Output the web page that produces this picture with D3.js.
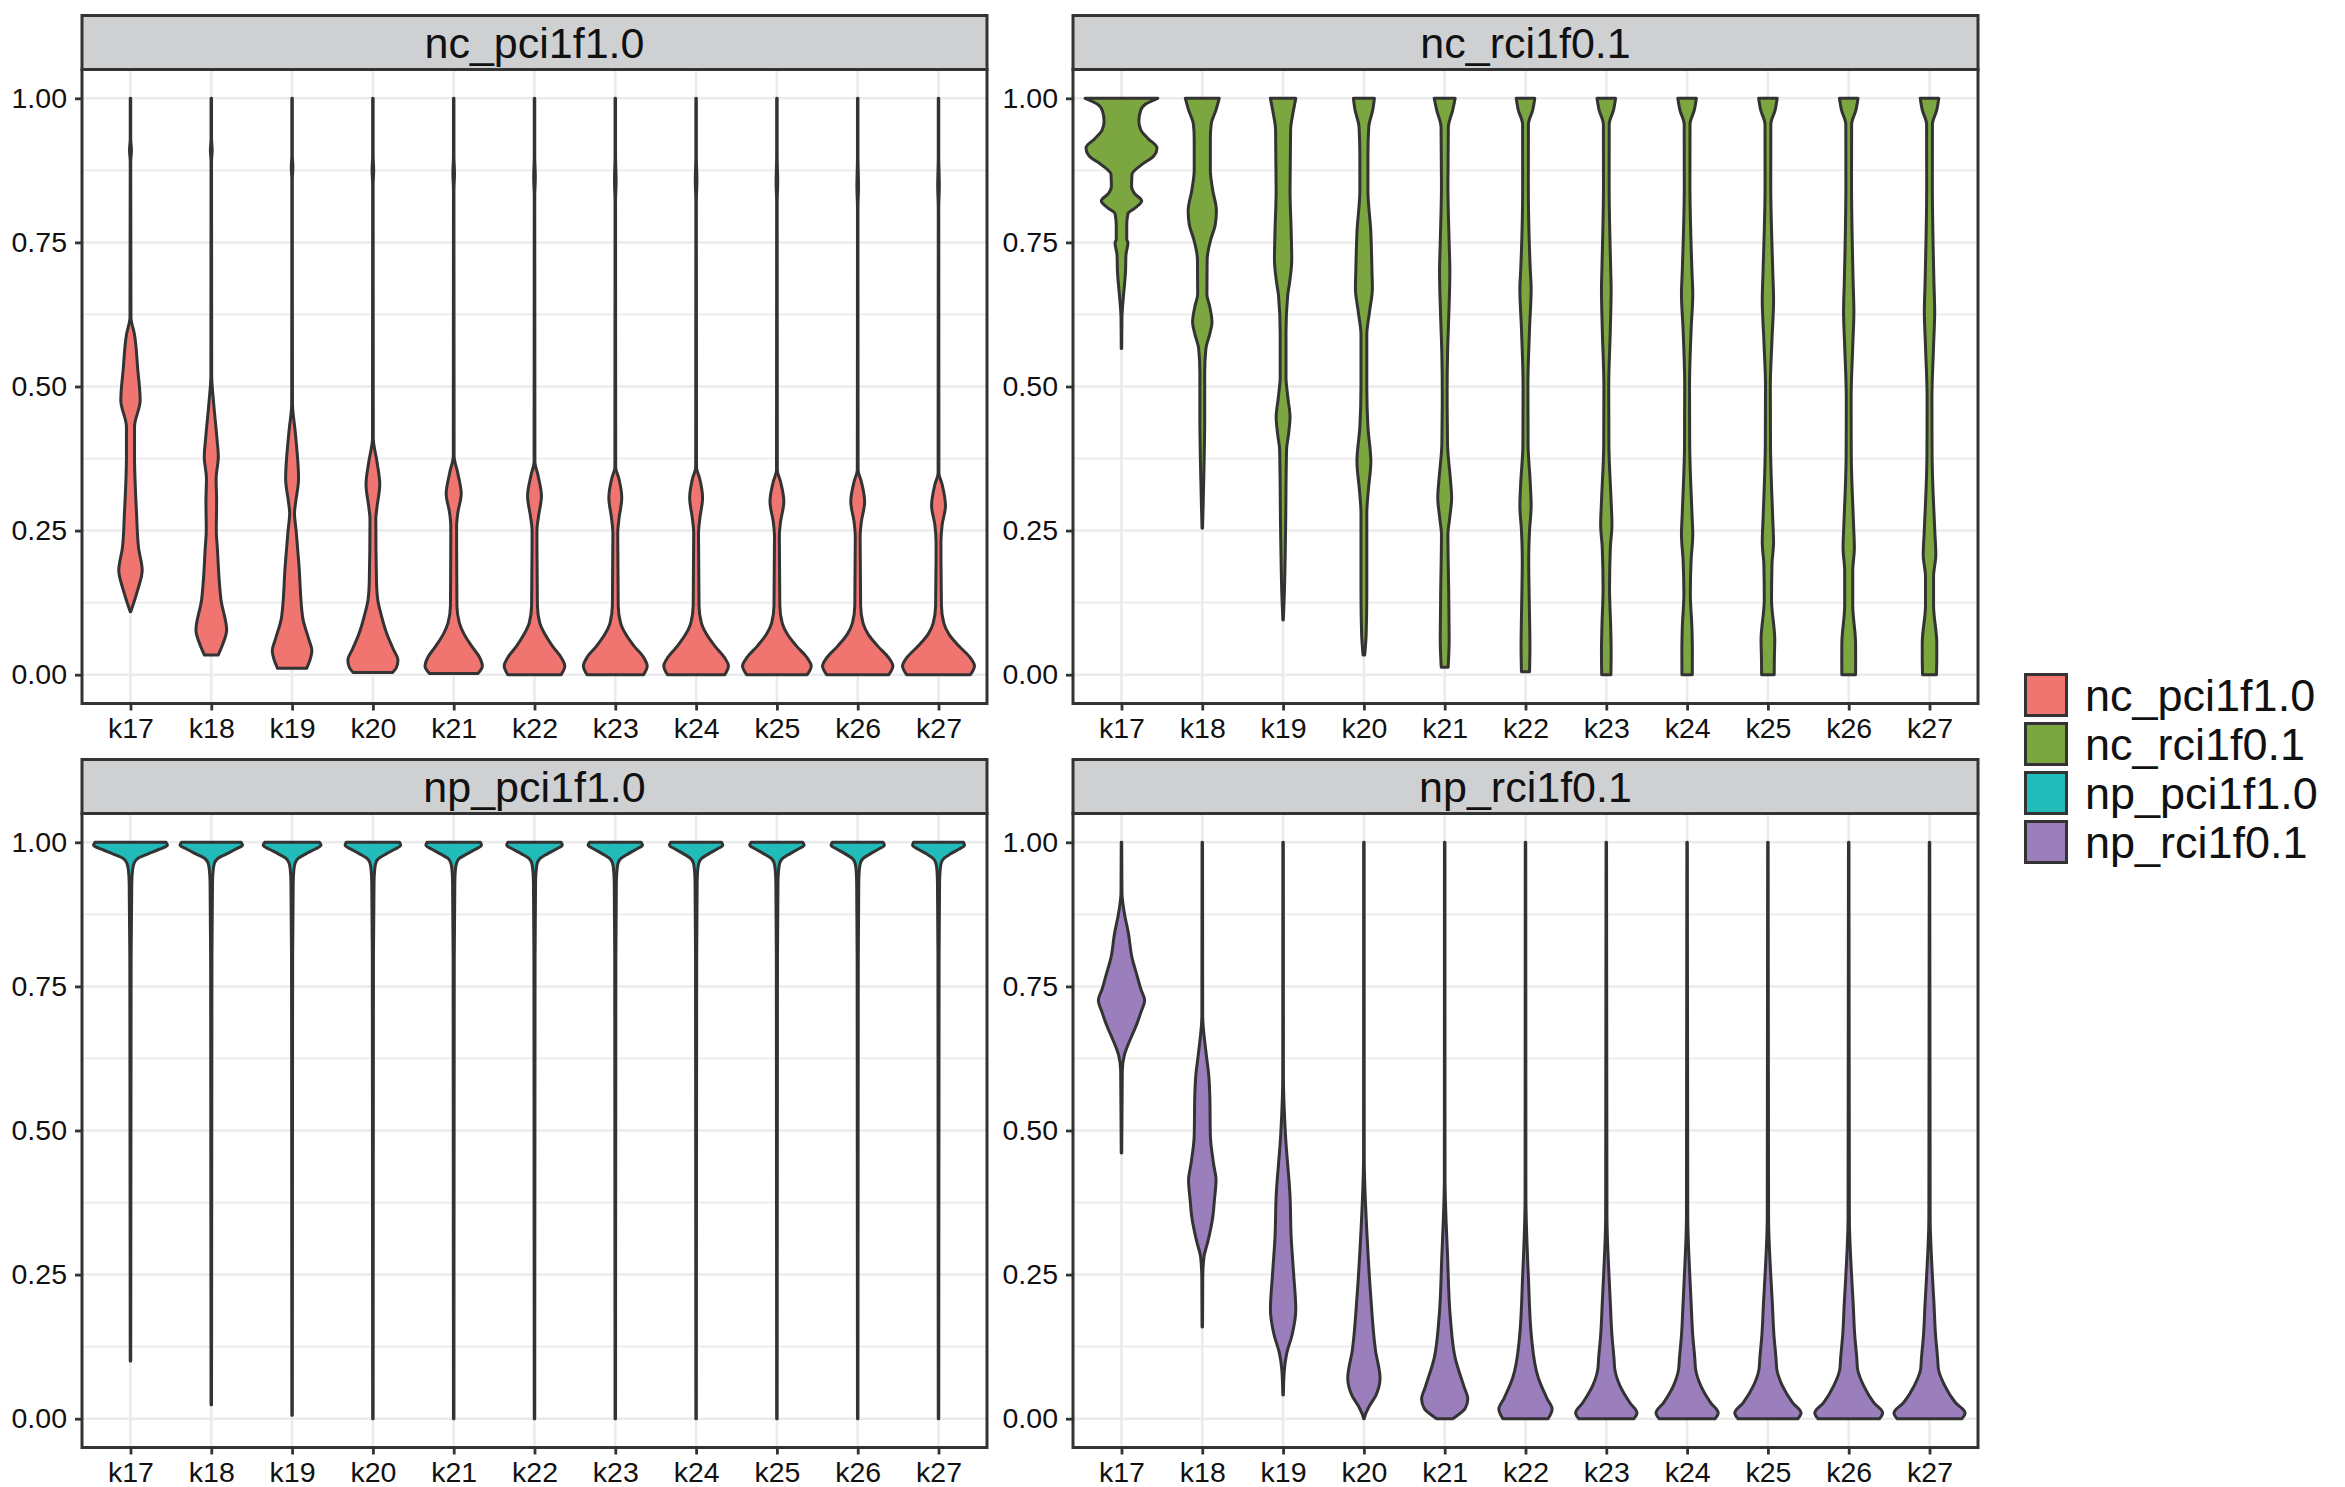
<!DOCTYPE html>
<meta charset="utf-8">
<html>
<head>
<style>
  body { margin: 0; background: #fff; }
  text { font-family: "Liberation Sans", Arial, sans-serif; }
</style>
</head>
<body>
<script src="https://d3js.org/d3.v7.min.js"></script>
<script>
  var categories = ["k17", "k18", "k19", "k20", "k21", "k22", "k23", "k24", "k25", "k26", "k27"];
  var facets = ["nc_pci1f1.0", "nc_rci1f0.1", "np_pci1f1.0", "np_rci1f0.1"];
  var colors = ["#F07571", "#7BA640", "#21BBB9", "#9A7FBC"];
  var yTicks = [0, 0.25, 0.5, 0.75, 1];
  var yMinor = [0.125, 0.375, 0.625, 0.875];

  // violin outlines: [value, half width in category steps]
  var ncPci = [
    [[1,0.003],[0.93,0.003],[0.91,0.012],[0.89,0.003],[0.62,0.006],[0.59,0.05],[0.53,0.09],[0.476,0.12],[0.43,0.05],[0.38,0.05],[0.28,0.075],[0.22,0.10],[0.181,0.145],[0.145,0.085],[0.109,0.003]],
    [[1,0.003],[0.93,0.003],[0.91,0.011],[0.89,0.003],[0.52,0.005],[0.47,0.03],[0.41,0.07],[0.378,0.087],[0.34,0.06],[0.30,0.066],[0.25,0.062],[0.22,0.075],[0.16,0.10],[0.13,0.12],[0.077,0.19],[0.054,0.145],[0.034,0.085]],
    [[1,0.003],[0.90,0.003],[0.88,0.01],[0.86,0.003],[0.47,0.005],[0.42,0.04],[0.34,0.08],[0.30,0.045],[0.28,0.03],[0.25,0.05],[0.19,0.085],[0.10,0.13],[0.06,0.21],[0.042,0.245],[0.025,0.22],[0.011,0.18]],
    [[1,0.003],[0.90,0.003],[0.875,0.01],[0.85,0.003],[0.41,0.005],[0.37,0.05],[0.33,0.085],[0.29,0.05],[0.27,0.036],[0.16,0.045],[0.13,0.06],[0.10,0.11],[0.072,0.17],[0.045,0.25],[0.025,0.31],[0.012,0.29],[0.004,0.245]],
    [[1,0.003],[0.90,0.003],[0.87,0.01],[0.84,0.003],[0.38,0.005],[0.35,0.05],[0.314,0.093],[0.28,0.05],[0.258,0.036],[0.12,0.04],[0.09,0.07],[0.07,0.13],[0.05,0.22],[0.03,0.32],[0.015,0.355],[0.002,0.30]],
    [[1,0.003],[0.90,0.003],[0.862,0.01],[0.83,0.003],[0.37,0.005],[0.345,0.045],[0.31,0.086],[0.275,0.05],[0.25,0.03],[0.12,0.036],[0.09,0.065],[0.07,0.13],[0.05,0.22],[0.03,0.33],[0.015,0.375],[0,0.33]],
    [[1,0.003],[0.90,0.003],[0.858,0.01],[0.82,0.003],[0.36,0.005],[0.34,0.045],[0.307,0.08],[0.27,0.045],[0.245,0.03],[0.12,0.036],[0.09,0.065],[0.07,0.13],[0.05,0.23],[0.03,0.35],[0.015,0.395],[0,0.35]],
    [[1,0.003],[0.90,0.003],[0.858,0.01],[0.82,0.003],[0.36,0.005],[0.34,0.045],[0.307,0.08],[0.27,0.045],[0.245,0.03],[0.12,0.036],[0.09,0.065],[0.07,0.13],[0.05,0.23],[0.03,0.35],[0.015,0.40],[0,0.355]],
    [[1,0.003],[0.90,0.003],[0.854,0.01],[0.82,0.003],[0.355,0.005],[0.335,0.045],[0.30,0.086],[0.265,0.045],[0.24,0.03],[0.12,0.036],[0.09,0.065],[0.07,0.13],[0.05,0.24],[0.03,0.37],[0.015,0.425],[0,0.375]],
    [[1,0.003],[0.90,0.003],[0.847,0.01],[0.81,0.003],[0.355,0.005],[0.335,0.045],[0.30,0.086],[0.265,0.045],[0.24,0.03],[0.12,0.036],[0.09,0.065],[0.07,0.13],[0.05,0.245],[0.03,0.38],[0.015,0.435],[0,0.385]],
    [[1,0.003],[0.90,0.003],[0.847,0.01],[0.81,0.003],[0.35,0.005],[0.33,0.045],[0.293,0.086],[0.26,0.045],[0.23,0.03],[0.12,0.036],[0.09,0.065],[0.07,0.13],[0.05,0.25],[0.03,0.39],[0.015,0.445],[0,0.395]]
  ];
  var ncRci = [
    [[1,0.45],[0.99,0.30],[0.978,0.235],[0.96,0.215],[0.945,0.24],[0.93,0.33],[0.914,0.44],[0.90,0.40],[0.885,0.25],[0.868,0.13],[0.847,0.125],[0.835,0.16],[0.822,0.25],[0.81,0.17],[0.80,0.08],[0.78,0.065],[0.755,0.065],[0.749,0.08],[0.74,0.07],[0.728,0.055],[0.70,0.05],[0.686,0.043],[0.65,0.02],[0.62,0.006],[0.566,0.003]],
    [[1,0.21],[0.98,0.17],[0.955,0.11],[0.93,0.10],[0.875,0.10],[0.84,0.13],[0.805,0.175],[0.78,0.16],[0.756,0.107],[0.72,0.06],[0.66,0.057],[0.64,0.09],[0.612,0.12],[0.59,0.09],[0.566,0.045],[0.524,0.03],[0.447,0.03],[0.35,0.02],[0.29,0.01],[0.254,0.003]],
    [[1,0.157],[0.98,0.13],[0.945,0.093],[0.84,0.086],[0.77,0.10],[0.72,0.107],[0.68,0.08],[0.658,0.057],[0.594,0.036],[0.517,0.036],[0.48,0.06],[0.447,0.086],[0.42,0.07],[0.39,0.043],[0.243,0.03],[0.138,0.015],[0.095,0.003]],
    [[1,0.13],[0.98,0.11],[0.95,0.06],[0.90,0.05],[0.84,0.05],[0.77,0.085],[0.70,0.10],[0.67,0.105],[0.63,0.07],[0.59,0.036],[0.50,0.036],[0.43,0.05],[0.37,0.086],[0.32,0.055],[0.28,0.036],[0.14,0.036],[0.07,0.028],[0.034,0.01]],
    [[1,0.13],[0.98,0.10],[0.95,0.045],[0.85,0.04],[0.75,0.055],[0.70,0.064],[0.62,0.05],[0.56,0.036],[0.49,0.03],[0.40,0.035],[0.34,0.07],[0.307,0.086],[0.27,0.06],[0.243,0.04],[0.14,0.05],[0.06,0.055],[0.013,0.043]],
    [[1,0.115],[0.98,0.09],[0.955,0.036],[0.85,0.035],[0.70,0.06],[0.67,0.07],[0.60,0.05],[0.50,0.03],[0.40,0.032],[0.33,0.06],[0.293,0.07],[0.25,0.05],[0.20,0.04],[0.10,0.05],[0.05,0.055],[0.005,0.05]],
    [[1,0.115],[0.98,0.09],[0.955,0.036],[0.85,0.035],[0.70,0.055],[0.67,0.06],[0.60,0.05],[0.50,0.03],[0.40,0.032],[0.30,0.06],[0.26,0.07],[0.22,0.05],[0.15,0.04],[0.08,0.055],[0.04,0.06],[0,0.057]],
    [[1,0.115],[0.98,0.09],[0.955,0.036],[0.85,0.035],[0.70,0.06],[0.66,0.07],[0.60,0.05],[0.50,0.03],[0.40,0.032],[0.28,0.06],[0.243,0.07],[0.20,0.05],[0.14,0.04],[0.08,0.06],[0.04,0.065],[0,0.064]],
    [[1,0.115],[0.98,0.09],[0.955,0.036],[0.85,0.035],[0.70,0.06],[0.65,0.07],[0.58,0.05],[0.50,0.03],[0.40,0.032],[0.27,0.06],[0.23,0.07],[0.19,0.05],[0.13,0.045],[0.06,0.085],[0.03,0.08],[0,0.078]],
    [[1,0.115],[0.98,0.09],[0.955,0.036],[0.85,0.035],[0.68,0.055],[0.63,0.064],[0.57,0.05],[0.48,0.03],[0.38,0.032],[0.26,0.06],[0.22,0.07],[0.18,0.05],[0.12,0.05],[0.055,0.085],[0.03,0.086],[0,0.085]],
    [[1,0.115],[0.98,0.09],[0.955,0.036],[0.85,0.035],[0.68,0.055],[0.63,0.064],[0.57,0.05],[0.48,0.03],[0.38,0.032],[0.25,0.065],[0.208,0.078],[0.17,0.05],[0.12,0.05],[0.055,0.09],[0.03,0.09],[0,0.086]]
  ];
  var npPci = [
    [[1,0.44],[0.995,0.457],[0.988,0.36],[0.98,0.22],[0.972,0.09],[0.964,0.045],[0.952,0.026],[0.93,0.016],[0.80,0.008],[0.10,0.003]],
    [[1,0.37],[0.995,0.386],[0.988,0.30],[0.98,0.19],[0.972,0.08],[0.964,0.04],[0.952,0.024],[0.93,0.015],[0.80,0.008],[0.024,0.003]],
    [[1,0.34],[0.995,0.357],[0.988,0.28],[0.98,0.17],[0.972,0.075],[0.964,0.038],[0.952,0.022],[0.93,0.014],[0.80,0.007],[0.006,0.003]],
    [[1,0.33],[0.995,0.343],[0.988,0.27],[0.98,0.165],[0.972,0.072],[0.964,0.036],[0.952,0.022],[0.93,0.014],[0.80,0.007],[0,0.003]],
    [[1,0.33],[0.995,0.343],[0.988,0.27],[0.98,0.165],[0.972,0.07],[0.964,0.036],[0.952,0.021],[0.93,0.014],[0.80,0.007],[0,0.003]],
    [[1,0.33],[0.995,0.343],[0.988,0.265],[0.98,0.16],[0.972,0.07],[0.964,0.035],[0.952,0.021],[0.93,0.013],[0.80,0.007],[0,0.003]],
    [[1,0.32],[0.995,0.336],[0.988,0.26],[0.98,0.16],[0.972,0.07],[0.964,0.035],[0.952,0.021],[0.93,0.013],[0.80,0.007],[0,0.003]],
    [[1,0.315],[0.995,0.329],[0.988,0.255],[0.98,0.155],[0.972,0.068],[0.964,0.034],[0.952,0.02],[0.93,0.013],[0.80,0.007],[0,0.003]],
    [[1,0.32],[0.995,0.336],[0.988,0.26],[0.98,0.16],[0.972,0.07],[0.964,0.035],[0.952,0.021],[0.93,0.013],[0.80,0.007],[0,0.003]],
    [[1,0.315],[0.995,0.329],[0.988,0.255],[0.98,0.155],[0.972,0.068],[0.964,0.034],[0.952,0.02],[0.93,0.013],[0.80,0.007],[0,0.003]],
    [[1,0.31],[0.995,0.321],[0.988,0.25],[0.98,0.15],[0.972,0.066],[0.964,0.033],[0.952,0.02],[0.93,0.013],[0.80,0.007],[0,0.003]]
  ];
  var npRci = [
    [[1,0.003],[0.912,0.006],[0.877,0.036],[0.842,0.086],[0.80,0.13],[0.77,0.19],[0.745,0.24],[0.726,0.286],[0.705,0.24],[0.685,0.19],[0.665,0.13],[0.645,0.07],[0.631,0.036],[0.603,0.01],[0.461,0.003]],
    [[1,0.003],[0.70,0.005],[0.631,0.05],[0.596,0.08],[0.561,0.093],[0.491,0.10],[0.442,0.14],[0.414,0.17],[0.379,0.15],[0.35,0.13],[0.308,0.07],[0.28,0.02],[0.245,0.006],[0.159,0.003]],
    [[1,0.003],[0.596,0.004],[0.491,0.03],[0.386,0.086],[0.315,0.10],[0.252,0.13],[0.189,0.157],[0.147,0.114],[0.112,0.043],[0.084,0.015],[0.041,0.003]],
    [[1,0.003],[0.456,0.004],[0.315,0.04],[0.21,0.086],[0.119,0.143],[0.07,0.2],[0.041,0.15],[0.02,0.06],[0.006,0.015],[0,0.004]],
    [[1,0.003],[0.42,0.004],[0.28,0.036],[0.175,0.07],[0.105,0.13],[0.055,0.24],[0.034,0.286],[0.017,0.25],[0.006,0.16],[0,0.10]],
    [[1,0.003],[0.386,0.005],[0.245,0.036],[0.14,0.075],[0.07,0.16],[0.034,0.27],[0.017,0.33],[0,0.28]],
    [[1,0.003],[0.35,0.008],[0.25,0.033],[0.20,0.05],[0.144,0.07],[0.105,0.095],[0.086,0.105],[0.057,0.17],[0.028,0.29],[0.01,0.38],[0,0.34]],
    [[1,0.003],[0.35,0.008],[0.25,0.033],[0.20,0.05],[0.144,0.07],[0.105,0.095],[0.086,0.105],[0.057,0.17],[0.028,0.29],[0.01,0.385],[0,0.345]],
    [[1,0.003],[0.35,0.008],[0.25,0.035],[0.20,0.055],[0.144,0.075],[0.105,0.10],[0.086,0.11],[0.057,0.18],[0.028,0.305],[0.01,0.41],[0,0.37]],
    [[1,0.003],[0.35,0.008],[0.25,0.035],[0.20,0.055],[0.144,0.075],[0.105,0.10],[0.086,0.11],[0.057,0.186],[0.028,0.31],[0.01,0.42],[0,0.38]],
    [[1,0.003],[0.35,0.008],[0.25,0.035],[0.20,0.055],[0.144,0.075],[0.105,0.10],[0.086,0.11],[0.057,0.19],[0.028,0.32],[0.01,0.44],[0,0.40]]
  ];
  var profiles = [ncPci, ncRci, npPci, npRci];

  var W = 2345, H = 1487;
  var left = 82, top0 = 15.5, panelW = 905, panelH = 634, stripH = 54, colGap = 86, rowGap = 56;
  var ink = "#333333", grid = "#EBEBEB";

  var svg = d3.select("body").append("svg")
    .attr("width", W).attr("height", H);

  var x = d3.scalePoint().domain(categories).range([0, panelW]).padding(0.6);
  var y = d3.scaleLinear().domain([-0.05, 1.05]).range([panelH, 0]);
  var step = x.step();

  var violin = d3.area()
    .curve(d3.curveMonotoneY)
    .y(function(d) { return y(d[0]); })
    .x0(function(d) { return -d[1] * step; })
    .x1(function(d) { return d[1] * step; });

  facets.forEach(function(name, i) {
    var col = i % 2, row = Math.floor(i / 2);
    var gx = left + col * (panelW + colGap);
    var gy = top0 + row * (stripH + panelH + rowGap);
    var g = svg.append("g").attr("transform", "translate(" + gx + "," + gy + ")");

    // strip
    g.append("rect")
      .attr("width", panelW).attr("height", stripH)
      .attr("fill", "#CFD0D2").attr("stroke", ink).attr("stroke-width", 3);
    g.append("text")
      .attr("x", panelW / 2).attr("y", stripH / 2).attr("dy", "0.36em")
      .attr("text-anchor", "middle").attr("fill", "#111")
      .style("font-size", "43px")
      .text(name);

    var p = g.append("g").attr("transform", "translate(0," + stripH + ")");

    // grid
    p.selectAll(".minor").data(yMinor).enter().append("line")
      .attr("x1", 0).attr("x2", panelW)
      .attr("y1", function(d) { return y(d); }).attr("y2", function(d) { return y(d); })
      .attr("stroke", grid).attr("stroke-width", 1.8);
    p.selectAll(".major").data(yTicks).enter().append("line")
      .attr("x1", 0).attr("x2", panelW)
      .attr("y1", function(d) { return y(d); }).attr("y2", function(d) { return y(d); })
      .attr("stroke", grid).attr("stroke-width", 2.5);
    p.selectAll(".vgrid").data(categories).enter().append("line")
      .attr("x1", function(d) { return x(d); }).attr("x2", function(d) { return x(d); })
      .attr("y1", 0).attr("y2", panelH)
      .attr("stroke", grid).attr("stroke-width", 2.5);

    // violins
    p.selectAll(".violin").data(profiles[i]).enter().append("path")
      .attr("transform", function(d, j) { return "translate(" + x(categories[j]) + ",0)"; })
      .attr("d", violin)
      .attr("fill", colors[i]).attr("stroke", ink)
      .attr("stroke-width", 3).attr("stroke-linejoin", "round");

    // panel border
    p.append("rect")
      .attr("width", panelW).attr("height", panelH)
      .attr("fill", "none").attr("stroke", ink).attr("stroke-width", 3);

    // axes
    var ya = p.append("g")
      .call(d3.axisLeft(y).tickValues(yTicks).tickFormat(d3.format(".2f")).tickSize(7).tickPadding(8));
    var xa = p.append("g").attr("transform", "translate(0," + panelH + ")")
      .call(d3.axisBottom(x).tickSize(7).tickPadding(7.5));
    [ya, xa].forEach(function(a) {
      a.select(".domain").remove();
      a.selectAll(".tick line").attr("stroke", ink).attr("stroke-width", 2.8);
      a.selectAll(".tick text").attr("fill", "#111").style("font-size", "28.5px")
        .style("font-family", "'Liberation Sans', Arial, sans-serif");
    });
  });

  // legend
  var legend = svg.append("g").attr("transform", "translate(2024,673)");
  facets.forEach(function(name, i) {
    legend.append("rect")
      .attr("x", 1.5).attr("y", i * 49 + 1.5)
      .attr("width", 41).attr("height", 41)
      .attr("fill", colors[i]).attr("stroke", ink).attr("stroke-width", 3);
    legend.append("text")
      .attr("x", 61).attr("y", i * 49 + 22).attr("dy", "0.36em")
      .attr("fill", "#111").style("font-size", "45px")
      .text(name);
  });
</script>
</body>
</html>
